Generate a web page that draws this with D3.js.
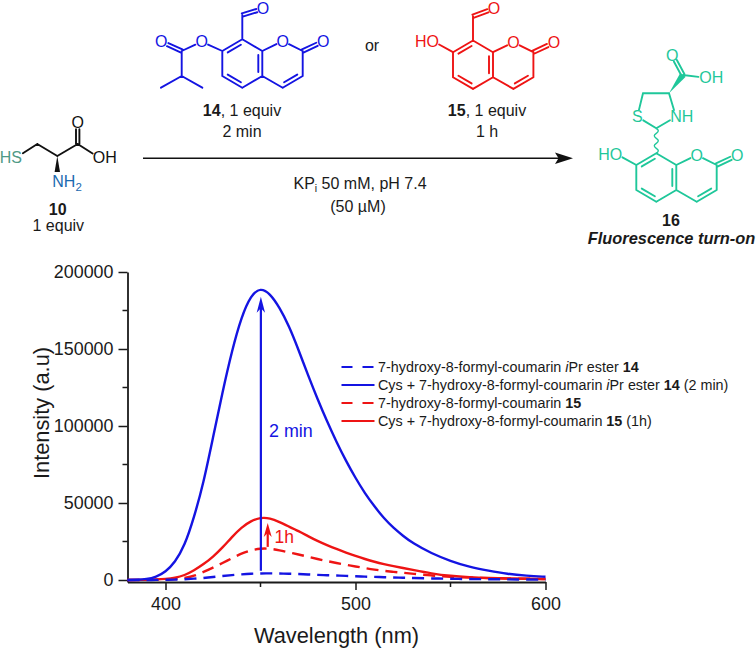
<!DOCTYPE html>
<html><head><meta charset="utf-8">
<style>
html,body{margin:0;padding:0;background:#fff}
svg{display:block}
text{font-family:"Liberation Sans",Arial,sans-serif}
</style>
<script src="https://cdn.jsdelivr.net/npm/d3@7"></script>
</head><body><div id="c"></div>
<script>
// ---- chart data ----
const wavelengths = [380,385,390,395,400,405,410,415,420,425,430,435,440,445,450,455,460,465,470,475,480,485,490,495,500,505,510,515,520,525,530,540,550,560,570,580,590,600];
const cysEster14 = [0,130,520,1950,5200,11500,22000,40500,63000,92500,122000,149000,171000,185000,189800,186000,177000,165000,149500,133000,117500,103000,89600,77300,66200,56200,47700,40000,33800,28700,24000,17200,12300,8400,6000,3900,2800,2100];
const ester14 = [0,0,0,50,100,250,500,850,1300,1900,2600,3200,3700,4100,4300,4300,4200,4100,3900,3600,3300,3100,2900,2650,2400,2200,2000,1800,1600,1450,1300,1000,800,600,500,400,300,200];
const cysAldehyde15 = [0,50,100,300,650,1300,3000,6200,10200,15000,21000,28000,34200,38400,40600,40200,37600,34700,31800,28500,25300,22600,20100,17800,15600,13600,11800,10300,9000,7800,6600,4200,2600,1800,1300,1000,800,650];
const aldehyde15 = [0,30,60,150,300,600,1100,2600,5200,8000,11000,14200,17200,19400,20500,20400,19300,17900,16550,15100,13600,12300,11000,9900,8800,7700,6700,5900,5300,4700,4100,2900,2100,1550,1200,1000,800,650];
const xTicks = [400,500,600];
const xMinorTicks = [450,550];
const yTicks = [0,50000,100000,150000,200000];
const yMinorTicks = [25000,75000,125000,175000];
const legendLabels = [
  [["7-hydroxy-8-formyl-coumarin "],["i","i"],["Pr ester "],["14","b"]],
  [["Cys + 7-hydroxy-8-formyl-coumarin "],["i","i"],["Pr ester "],["14","b"],[" (2 min)"]],
  [["7-hydroxy-8-formyl-coumarin "],["15","b"]],
  [["Cys + 7-hydroxy-8-formyl-coumarin "],["15","b"],[" (1h)"]]
];

const BLUE="#1414e2", RED="#ee1414", GREEN="#1fc79a", INK="#1a1a1a";
const W=756,H=649;
const svg=d3.select("#c").append("svg").attr("width",W).attr("height",H);

// ---- scales and axes ----
const x=d3.scaleLinear().domain([380,600]).range([127.5,545.5]);
const y=d3.scaleLinear().domain([-1300,200000]).range([582,272]);
const axisStyle=g=>{g.selectAll("path,line").attr("stroke",INK).attr("stroke-width",1.5);g.select(".domain").attr("stroke-width",1.8)};
const gx=svg.append("g").attr("transform",`translate(0,${y.range()[0]})`);
gx.call(d3.axisBottom(x).tickValues(xTicks).tickSize(8).tickSizeOuter(0).tickPadding(7).tickFormat(d3.format("d")));
gx.call(axisStyle);
gx.selectAll("text").attr("font-size",17.9).attr("fill",INK).attr("font-family","Liberation Sans");
gx.selectAll(".minor").data(xMinorTicks).enter().append("line").attr("class","minor")
  .attr("x1",d=>x(d)).attr("x2",d=>x(d)).attr("y1",0).attr("y2",5).attr("stroke",INK).attr("stroke-width",1.5);
const gy=svg.append("g").attr("transform",`translate(${x.range()[0]},0)`);
gy.call(d3.axisLeft(y).tickValues(yTicks).tickSize(9).tickSizeOuter(0).tickPadding(5).tickFormat(d3.format("d")));
gy.call(axisStyle);
gy.selectAll("text").attr("font-size",17.9).attr("fill",INK).attr("font-family","Liberation Sans");
gy.selectAll(".minor").data(yMinorTicks).enter().append("line").attr("class","minor")
  .attr("x1",0).attr("x2",-5).attr("y1",d=>y(d)).attr("y2",d=>y(d)).attr("stroke",INK).attr("stroke-width",1.5);

svg.append("text").attr("x",336.5).attr("y",643).attr("text-anchor","middle").attr("font-size",21.8).attr("fill",INK).text("Wavelength (nm)");
svg.append("text").attr("transform","translate(49,413) rotate(-90)").attr("text-anchor","middle").attr("font-size",21.8).attr("fill",INK).text("Intensity (a.u)");

// ---- curves ----
const seriesLine=vals=>d3.line().x((d,i)=>x(wavelengths[i])).y(d=>y(d)).curve(d3.curveBasis)(vals);
const series=[
 {v:aldehyde15,c:RED,dash:"12 7"},
 {v:cysAldehyde15,c:RED},
 {v:cysEster14,c:BLUE},
 {v:ester14,c:BLUE,dash:"12 7"}
];
series.forEach(s=>svg.append("path").attr("d",seriesLine(s.v)).attr("fill","none").attr("stroke",s.c)
  .attr("stroke-width",2.4).attr("stroke-dasharray",s.dash||null));

// ---- annotation arrows ----
function upArrow(nm,from,to,c,lw,hw,hl){
  const X=x(nm),y0=y(from),y1=y(to);
  svg.append("line").attr("x1",X).attr("x2",X).attr("y1",y0).attr("y2",y1+hl*0.6).attr("stroke",c).attr("stroke-width",lw);
  svg.append("path").attr("fill",c).attr("d",`M${X},${y1}L${X+hw},${y1+hl}L${X},${y1+hl*0.72}L${X-hw},${y1+hl}Z`);
}
upArrow(450.2,6000,184000,BLUE,2.2,4.2,16);
upArrow(453.8,21500,37000,RED,2.2,4,14);
svg.append("text").attr("x",269).attr("y",437).attr("font-size",17.9).attr("fill",BLUE).text("2 min");
svg.append("text").attr("x",274.5).attr("y",543).attr("font-size",17.5).attr("fill",RED).text("1h");

// ---- legend ----
const legendY=[367,385,403,421];
const legendStyle=[{c:BLUE,d:"11 10"},{c:BLUE},{c:RED,d:"11 10"},{c:RED}];
legendLabels.forEach((parts,i)=>{
  svg.append("line").attr("x1",341.5).attr("x2",374.5).attr("y1",legendY[i]).attr("y2",legendY[i])
    .attr("stroke",legendStyle[i].c).attr("stroke-width",2.2).attr("stroke-dasharray",legendStyle[i].d||null);
  const t=svg.append("text").attr("x",378).attr("y",legendY[i]+4.8).attr("font-size",14.35).attr("fill",INK);
  parts.forEach(p=>{const s=t.append("tspan").text(p[0]);
    if(p[1]==="i")s.attr("font-style","italic");
    if(p[1]==="b")s.attr("font-weight","bold");});
});

// ---- reaction scheme (structural drawing, not chart data) ----
const scheme=svg.append("g");
function mol(color,ox,oy,atoms,bonds,labels){
  const g=scheme.append("g").attr("transform",`translate(${ox},${oy})`);
  const path=d3.path();
  const seg=(a,b)=>{path.moveTo(a[0],a[1]);path.lineTo(b[0],b[1]);};
  bonds.forEach(([p,q,kind,ctr])=>{
    let a=atoms[p],b=atoms[q];
    const dx=b[0]-a[0],dy=b[1]-a[1],L=Math.hypot(dx,dy),ux=dx/L,uy=dy/L;
    const A=[a[0]+ux*(a[2]||0),a[1]+uy*(a[2]||0)],B=[b[0]-ux*(b[2]||0),b[1]-uy*(b[2]||0)];
    if(kind==="D"){
      const nx=-uy*1.7,ny=ux*1.7;
      seg([A[0]+nx,A[1]+ny],[B[0]+nx,B[1]+ny]);seg([A[0]-nx,A[1]-ny],[B[0]-nx,B[1]-ny]);
    }else{
      seg(A,B);
      if(kind==="d"){
        let nx=-uy,ny=ux;
        if((ctr[0]-a[0])*nx+(ctr[1]-a[1])*ny<0){nx=-nx;ny=-ny;}
        seg([a[0]+nx*4+ux*4,a[1]+ny*4+uy*4],[b[0]+nx*4-ux*4,b[1]+ny*4-uy*4]);
      }
    }
  });
  g.append("path").attr("d",path.toString()).attr("fill","none").attr("stroke",color).attr("stroke-width",1.9).attr("stroke-linecap","round");
  (labels||[]).forEach(l=>{
    g.append("text").attr("x",l[1]).attr("y",l[2]).attr("dy","0.36em").attr("text-anchor",l[3]||"middle")
      .attr("font-size",16).attr("fill",color).text(l[0]);
  });
  return g;
}
const R1=[0,24.2],R2=[40.4,24.2];
const coumAtoms={C8:[0,0],C7:[-20,11.7],C6:[-20,36.7],C5:[0,48.4],C4a:[20,36.7],C8a:[20,11.7],
  O1:[40.4,1.7,7],C2:[60.4,11.7],C3:[60.4,36.7],C4:[40.4,48.4],O2:[81,2,7]};
const coumBonds=[["C8","C7","d",R1],["C7","C6"],["C6","C5","d",R1],["C5","C4a"],["C4a","C8a","d",R1],["C8a","C8"],
  ["C8a","O1"],["O1","C2"],["C2","O2","D"],["C2","C3"],["C3","C4","d",R2],["C4","C4a"]];
const coumLabels=[["O",40.4,1.7],["O",81,2]];
// 14
mol(BLUE,242.3,39.3,{...coumAtoms,CH:[0,-24.3],Oa:[20.7,-30.6,6.5],Oe:[-40.6,2.4,7],Ce:[-60.6,11.7],Ok:[-81,2.4,7],Cm:[-60.6,36.7],Me1:[-81.3,48.4],Me2:[-40,48.4]},
  [...coumBonds,["C8","CH"],["CH","Oa","D"],["C7","Oe"],["Oe","Ce"],["Ce","Ok","D"],["Ce","Cm"],["Cm","Me1"],["Cm","Me2"]],
  [...coumLabels,["O",20.7,-30.6],["O",-40.6,2.4],["O",-81,2.4]]);
// 15
mol(RED,473,40.5,{...coumAtoms,CH:[0,-24.3],Oa:[21,-32,6.5],Oh:[-40,0.6,7]},
  [...coumBonds,["C8","CH"],["CH","Oa","D"],["C7","Oh"]],
  [...coumLabels,["O",21,-32],["HO",-34,0.6,"end"]]);
// 16
const g16=mol(GREEN,656.3,153.3,{...coumAtoms,Oh:[-40,0.6,7],Ca:[0,-25],S:[-19,-36.6,7],CH2:[-13.3,-60],Ct:[12.7,-60],N:[19.7,-36.6,7],Cc:[26.7,-78.3],Ok:[16,-98.3,6.5],Oo:[49,-75.6,7]},
  [...coumBonds,["C7","Oh"],["Ca","S"],["S","CH2"],["CH2","Ct"],["Ct","N"],["N","Ca"],["Cc","Ok","D"],["Cc","Oo"]],
  [...coumLabels,["HO",-34,0.6,"end"],["S",-19,-36.6],["NH",14,-36.6,"start"],["O",16,-98.3],["OH",43,-75.6,"start"]]);
g16.append("path").attr("fill",GREEN).attr("d","M12.7,-60L24,-80.2L29.4,-76.6Z");
{const wig=d3.path();wig.moveTo(0,0);
 for(let i=1;i<=5;i++){wig.quadraticCurveTo(i%2?4:-4,-(i-0.5)*5,0,-i*5);}
 g16.append("path").attr("d",wig.toString()).attr("fill","none").attr("stroke",GREEN).attr("stroke-width",1.4);}
// 10
const g10=mol("#111",0,0,{CH2:[37.3,144],HS:[17,157,7],Ca:[57.3,156],C:[77.7,144],Ok:[77.7,122.3,7],Oo:[98.5,157.3,7]},
  [["HS","CH2"],["CH2","Ca"],["Ca","C"],["C","Ok","D"],["C","Oo"]],
  [["O",77.7,122.3],["OH",92.7,157.3,"start"]]);
g10.append("path").attr("fill","#111").attr("d","M57.3,156L54.6,172L60,172Z");
g10.append("text").attr("x",22).attr("y",157).attr("dy","0.36em").attr("text-anchor","end").attr("font-size",16).attr("fill","#4f9a86").text("HS");
{const t=g10.append("text").attr("x",52.3).attr("y",181.7).attr("dy","0.36em").attr("font-size",16).attr("fill","#1a6ab0");
 t.append("tspan").text("NH");t.append("tspan").attr("dy","0.3em").attr("font-size",11.5).text("2");}

// reaction arrow
scheme.append("line").attr("x1",143).attr("x2",560).attr("y1",158.3).attr("y2",158.3).attr("stroke","#111").attr("stroke-width",1.6);
scheme.append("path").attr("fill","#111").attr("d","M573,158.3L555,152.6L558.5,158.3L555,164Z");

// captions
function cap(parts,cx,cy,size){
  const t=scheme.append("text").attr("x",cx).attr("y",cy).attr("dy","0.36em").attr("text-anchor","middle").attr("font-size",size||16).attr("fill",INK);
  parts.forEach(p=>{const s=t.append("tspan").text(p[0]);
    if(p[1]==="b")s.attr("font-weight","bold");
    if(p[1]==="bi")s.attr("font-weight","bold").attr("font-style","italic");
    if(p[1]==="sub")s.attr("font-size",10.5).attr("dy","0.3em");
    if(p[1]==="back")s.attr("dy","-0.2em");});
}
cap([["14","b"],[", 1 equiv"]],242,110);
cap([["2 min"]],242,131);
cap([["15","b"],[", 1 equiv"]],487,110);
cap([["1 h"]],487,131);
cap([["or"]],372,45);
cap([["10","b"]],57.7,209);
cap([["1 equiv"]],58.3,225);
cap([["16","b"]],671,220);
cap([["Fluorescence turn-on","bi"]],671.5,238,16.4);
cap([["KP"],["i","sub"],[" 50 mM, pH 7.4","back"]],360,183);
cap([["(50 µM)"]],358,206);
</script></body></html>
